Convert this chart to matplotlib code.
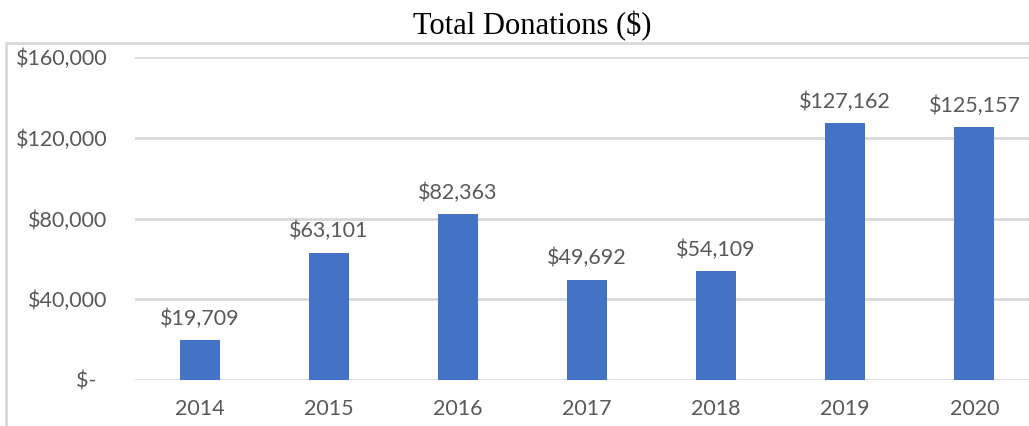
import matplotlib
matplotlib.use("Agg")
import matplotlib.pyplot as plt
from matplotlib.patches import Rectangle

years = ["2014", "2015", "2016", "2017", "2018", "2019", "2020"]
donations = [19709, 63101, 82363, 49692, 54109, 127162, 125157]
yticks = [0, 40000, 80000, 120000, 160000]
ytick_labels = ["$-  ", "$40,000", "$80,000", "$120,000", "$160,000"]
title = "Total Donations ($)"

bar_color = "#4472C4"
grid_color = "#D9D9D9"
text_color = "#595959"

plt.rcParams['font.family'] = ['Lato', 'DejaVu Sans']

fig = plt.figure(figsize=(10.29, 4.26), dpi=100)
ax = fig.add_axes([135 / 1029, 1 - 380 / 426, 904 / 1029, 323 / 426])

x = list(range(len(years)))
bars = ax.bar(x, donations, width=0.31, color=bar_color, zorder=3)
ax.set_xlim(-0.5, len(years) - 0.5)
ax.set_ylim(0, 160000)
ax.set_yticks(yticks)
ax.set_yticklabels(ytick_labels)
ax.set_xticks(x)
ax.set_xticklabels(years)
ax.yaxis.grid(True, color=grid_color, linewidth=2, zorder=0)
ax.set_axisbelow(True)
for s in ax.spines.values():
    s.set_visible(False)
ax.tick_params(axis='both', length=0, labelsize=15.5, colors=text_color)
ax.tick_params(axis='y', pad=20)
ax.tick_params(axis='x', pad=14)

for rect, v in zip(bars, donations):
    ax.annotate(f"${v:,}", (rect.get_x() + rect.get_width() / 2, v),
                xytext=(0, 8), textcoords="offset points", ha="center", va="bottom",
                fontsize=15.5, color=text_color)

fig.text(532 / 1029, 1 - 34 / 426, title, ha="center", va="baseline",
         fontsize=22, family=['Liberation Serif', 'DejaVu Serif'], color="black")

fig.patches.append(Rectangle((6 / 1029, -0.1), 1.2, (1 - 43 / 426) + 0.1,
                             transform=fig.transFigure, fill=False,
                             edgecolor=grid_color, linewidth=2))

fig.savefig("out.png", dpi=100)
